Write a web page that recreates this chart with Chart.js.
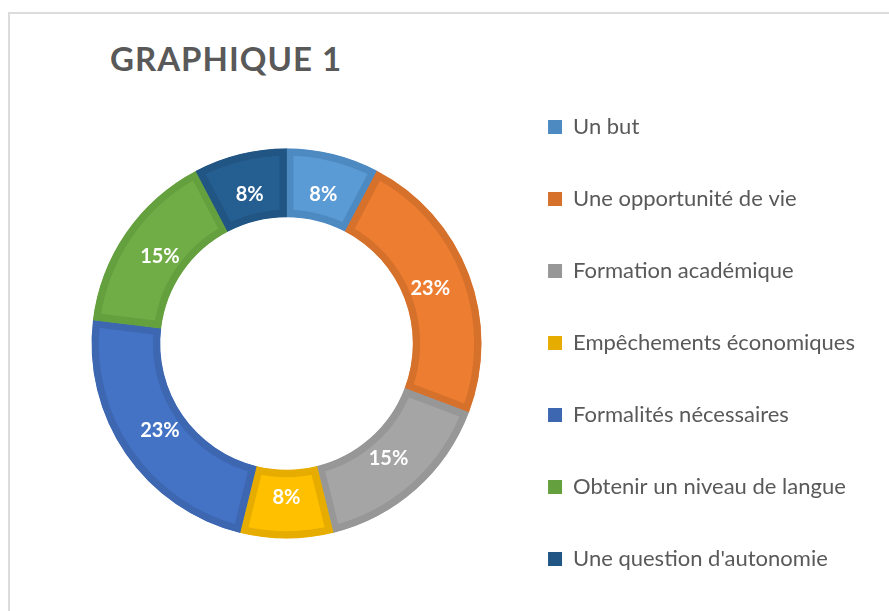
<!DOCTYPE html>
<html>
<head>
<meta charset="utf-8">
<script src="https://cdn.jsdelivr.net/npm/chart.js@4/dist/chart.umd.min.js"></script>
<style>
    html, body { margin: 0; padding: 0; background: #fff; overflow: hidden; height: 611px; }
    #frame { position: absolute; left: 8px; top: 12px; width: 1000px; height: 1000px; border: 2px solid #dcdcdc; }
    #title { position: absolute; left: 110px; top: 42px; font: bold 33px Lato, sans-serif; letter-spacing: 1px; line-height: 1; color: #595959; white-space: nowrap; }
    #chart { position: absolute; left: 0; top: 0; }
</style>
</head>
<body>
<div id="frame"></div>
<div id="title">GRAPHIQUE 1</div>
<canvas id="chart" width="889" height="621"></canvas>
<script>
'use strict';

const categories = [
    'Un but',
    'Une opportunité de vie',
    'Formation académique',
    'Empêchements économiques',
    'Formalités nécessaires',
    'Obtenir un niveau de langue',
    "Une question d'autonomie"
];
const shares = [7.7, 23.1, 15.4, 7.7, 23.1, 15.4, 7.7];
const fillColors = ['#5b9bd5', '#ed7d31', '#a5a5a5', '#ffc000', '#4472c4', '#70ad47', '#255e91'];
const edgeColors = ['#4e8ac2', '#d6712c', '#979797', '#e6ad00', '#3e67b2', '#65a03f', '#215584'];

// percentages written on each slice
const sliceLabels = {
    id: 'sliceLabels',
    afterDatasetsDraw(chart) {
        const ctx = chart.ctx;
        const meta = chart.getDatasetMeta(0);
        ctx.save();
        ctx.font = 'bold 20px Lato, sans-serif';
        ctx.fillStyle = '#ffffff';
        ctx.textAlign = 'center';
        ctx.textBaseline = 'middle';
        meta.data.forEach((arc, i) => {
            const p = arc.getProps(['x', 'y', 'startAngle', 'endAngle', 'innerRadius', 'outerRadius']);
            const mid = (p.startAngle + p.endAngle) / 2;
            const r = p.innerRadius + (p.outerRadius - p.innerRadius) * 0.4;
            ctx.fillText(Math.round(shares[i]) + '%', p.x + Math.cos(mid) * r, p.y + Math.sin(mid) * r);
        });
        ctx.restore();
    }
};

new Chart(document.getElementById('chart'), {
    type: 'doughnut',
    data: {
        labels: categories,
        datasets: [{
            data: shares,
            backgroundColor: fillColors,
            borderColor: edgeColors,
            borderWidth: 7,
            borderAlign: 'inner',
            borderJoinStyle: 'miter',
            hoverOffset: 0
        }]
    },
    options: {
        responsive: false,
        animation: false,
        radius: 195,
        cutout: 137,
        layout: {
            padding: { left: 75, right: 24, top: 66, bottom: 0 }
        },
        plugins: {
            tooltip: { enabled: false },
            legend: {
                position: 'right',
                align: 'start',
                labels: {
                    boxWidth: 14,
                    boxHeight: 14,
                    padding: 50,
                    color: '#595959',
                    font: { family: 'Lato', size: 22 },
                    generateLabels: (chart) => chart.data.labels.map((label, i) => ({
                        text: label,
                        fillStyle: edgeColors[i],
                        strokeStyle: edgeColors[i],
                        lineWidth: 0,
                        fontColor: '#595959',
                        hidden: false,
                        index: i
                    }))
                }
            }
        }
    },
    plugins: [sliceLabels]
});
</script>
</body>
</html>
